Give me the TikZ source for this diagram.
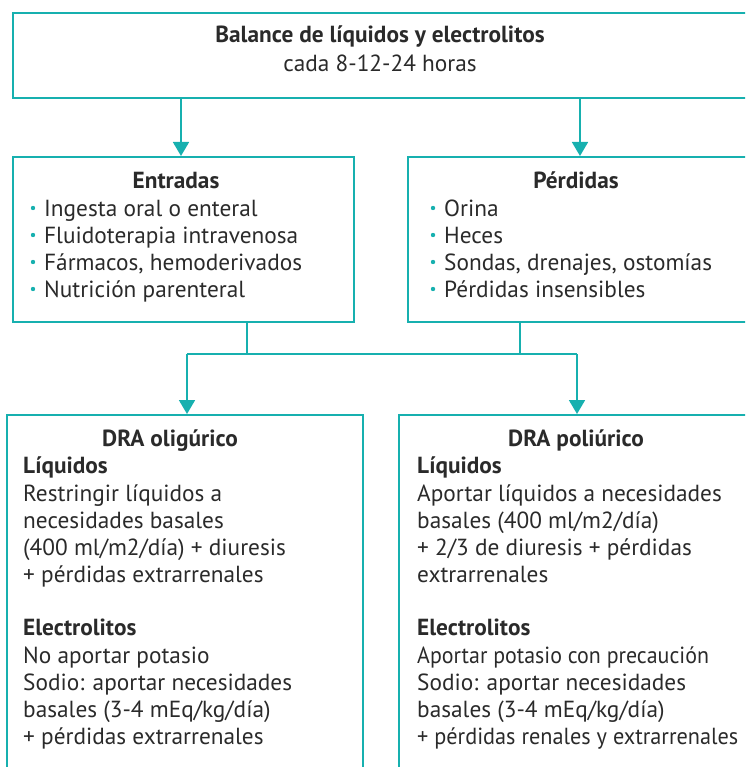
\documentclass[tikz,border=0pt]{standalone}
\usepackage{fontspec}
\setmainfont{PT Sans}
\usetikzlibrary{arrows.meta}
\definecolor{teal1}{HTML}{17B0AF}
\definecolor{ink}{HTML}{2A2A2A}
\newcommand{\bodyfont}{\fontsize{23.3}{27}\selectfont}
\begin{document}
\begin{tikzpicture}[x=1pt,y=-1pt,
  box/.style={draw=teal1,line width=1.8pt,rectangle,inner sep=0pt,anchor=north west},
  txt/.style={anchor=base west,inner sep=0pt,text=ink,font=\bodyfont},
  hdr/.style={txt,font=\bodyfont\bfseries},
  ttl/.style={anchor=base,inner sep=0pt,text=ink,font=\bodyfont\bfseries},
  bul/.style={circle,fill=teal1,inner sep=0pt,minimum size=4.4pt},
  conn/.style={draw=teal1,line width=1.8pt},
  arr/.style={conn,-{Triangle[width=16pt,length=14pt]}}]
\useasboundingbox (0,0) rectangle (745,767);
\clip (0,0) rectangle (745,767);
% boxes
\node[box,minimum width=736pt,minimum height=85pt] (top) at (12,12) {};
\node[box,minimum width=341pt,minimum height=165pt] (ent) at (12,156) {};
\node[box,minimum width=341pt,minimum height=165pt] (per) at (407,156) {};
\node[box,minimum width=356pt,minimum height=380pt] (oli) at (6,414) {};
\node[box,minimum width=350pt,minimum height=380pt] (pol) at (398,414) {};
% top text
\node[ttl] (t1) at (380,43) {Balance de líquidos y electrolitos};
\node[txt,anchor=base] (t2) at (380,72) {cada 8-12-24 horas};
% entradas
\node[ttl] (et) at (176,189) {Entradas};
\node[bul] (eb1) at (33,208) {};
\node[bul] (eb2) at (33,235) {};
\node[bul] (eb3) at (33,262) {};
\node[bul] (eb4) at (33,289) {};
\node[txt] (e1) at (44,216) {Ingesta oral o enteral};
\node[txt] (e2) at (44,243) {Fluidoterapia intravenosa};
\node[txt] (e3) at (44,270) {Fármacos, hemoderivados};
\node[txt] (e4) at (44,297) {Nutrición parenteral};
% perdidas
\node[ttl] (pt) at (576,189) {Pérdidas};
\node[bul] (pb1) at (433,208) {};
\node[bul] (pb2) at (433,235) {};
\node[bul] (pb3) at (433,262) {};
\node[bul] (pb4) at (433,289) {};
\node[txt] (p1) at (444,216) {Orina};
\node[txt] (p2) at (444,243) {Heces};
\node[txt] (p3) at (444,270) {Sondas, drenajes, ostomías};
\node[txt] (p4) at (444,297) {Pérdidas insensibles};
% DRA oligurico
\node[ttl] (ot) at (170,446) {DRA oligúrico};
\node[hdr] (oh1) at (23,473) {Líquidos};
\node[txt] (o1) at (23,501) {Restringir líquidos a};
\node[txt] (o2) at (23,528) {necesidades basales};
\node[txt] (o3) at (23,555) {(400 ml/m2/día) + diuresis};
\node[txt] (o4) at (23,582) {+ pérdidas extrarrenales};
\node[hdr] (oh2) at (23,635) {Electrolitos};
\node[txt] (o5) at (23,663) {No aportar potasio};
\node[txt] (o6) at (23,690) {Sodio: aportar necesidades};
\node[txt] (o7) at (23,717) {basales (3-4 mEq/kg/día)};
\node[txt] (o8) at (23,744) {+ pérdidas extrarrenales};
% DRA poliurico
\node[ttl] (qt) at (576,446) {DRA poliúrico};
\node[hdr] (qh1) at (417,473) {Líquidos};
\node[txt] (q1) at (417,501) {Aportar líquidos a necesidades};
\node[txt] (q2) at (417,528) {basales (400 ml/m2/día)};
\node[txt] (q3) at (417,555) {+ 2/3 de diuresis + pérdidas};
\node[txt] (q4) at (417,582) {extrarrenales};
\node[hdr] (qh2) at (417,635) {Electrolitos};
\node[txt] (q5) at (417,663) {\scalebox{0.94}[1]{Aportar potasio con precaución}};
\node[txt] (q6) at (417,690) {Sodio: aportar necesidades};
\node[txt] (q7) at (417,717) {basales (3-4 mEq/kg/día)};
\node[txt] (q8) at (417,744) {\scalebox{0.955}[1]{+ pérdidas renales y extrarrenales}};
% connectors
\coordinate (j1) at (247,354);
\coordinate (j2) at (520,354);
\coordinate (jl) at (187,354);
\coordinate (jr) at (577,354);
\draw[arr] (top.south -| 181,0) -- (ent.north -| 181,0);
\draw[arr] (top.south -| 580,0) -- (per.north -| 580,0);
\draw[conn] (ent.south -| j1) -- (j1);
\draw[conn] (per.south -| j2) -- (j2);
\draw[conn] (jl) -- (jr);
\draw[arr] (jl) -- (oli.north -| jl);
\draw[arr] (jr) -- (pol.north -| jr);
\end{tikzpicture}
\end{document}
